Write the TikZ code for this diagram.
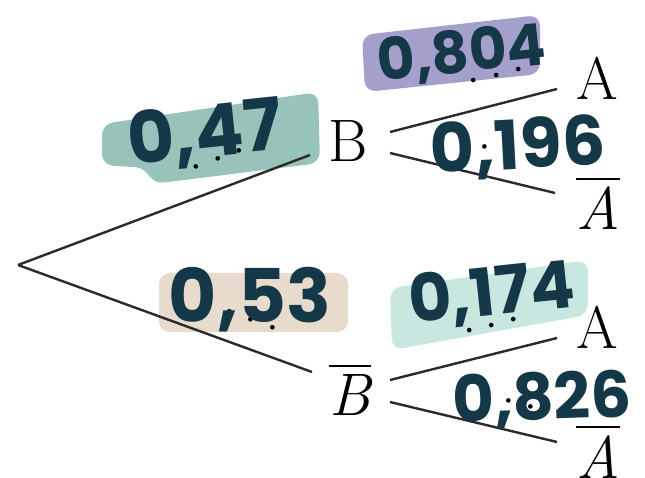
\documentclass[tikz,border=0pt]{standalone}
\usepackage{fontspec}
\newfontfamily\hand{Poppins}
\usetikzlibrary{calc}
\definecolor{ink}{HTML}{143847}
\definecolor{hlteal}{HTML}{97C3BB}
\definecolor{hlpurple}{HTML}{A59FCC}
\definecolor{hlbeige}{HTML}{E6DBCD}
\definecolor{hlmint}{HTML}{C8E7E1}
\definecolor{branchcol}{HTML}{2A2A2A}
\newcommand{\barred}[1]{\setbox0\hbox{\itshape #1}\vbox{\hrule height 2pt width \wd0 \kern 7pt \box0}}
\newcommand{\spdots}{\hbox{.\kern 9pt.\kern 9pt.}}
\begin{document}
\begin{tikzpicture}[x=1pt,y=-1pt,
  letter/.style={font=\fontsize{60}{72}\selectfont, inner sep=0pt, anchor=base},
  branch/.style={draw=branchcol, line width=2.4pt},
  dotlab/.style={font=\fontsize{56}{64}\selectfont, sloped, above=25pt, inner sep=0pt},
  hw/.style={text=ink, inner sep=0pt, font=\hand\bfseries},
  hl/.style={rounded corners=11pt}]
\useasboundingbox (0,0) rectangle (645,478);

% highlights
\fill[hlteal,hl] (102,124) -- (318,92) -- (320,163) -- (152,184) -- (147,168) -- (102,165) -- cycle;
\fill[hlpurple,hl] (362,35) -- (540,15) -- (540,74) -- (365,92) -- cycle;
\fill[hlbeige,hl] (159,273) -- (348,273) -- (348,332) -- (159,332) -- cycle;
\fill[hlmint,hl] (390,288) -- (588,260) -- (588,315) -- (392,350) -- cycle;

% nodes
\coordinate (root) at (18,265);
\node[letter] (B) at (348,162) {B};
\node[letter] (Bb) at (350,415) {\barred{B}};
\node[letter] (A1) at (597,100) {A};
\node[letter] (Ab1) at (598,230) {\barred{A}};
\node[letter] (A2) at (597,348) {A};
\node[letter] (Ab2) at (598,478) {\barred{A}};

% branches
\draw[branch] (root) -- node[dotlab,pos=0.72] (d1) {\spdots} ($(B.base)+(-38,-7)$);
\draw[branch] (root) -- node[dotlab,pos=0.76] (d2) {\spdots} ($(Bb.base)+(-38,-43)$);
\draw[branch] ($(B.base)+(42,-30)$) -- node[dotlab,pos=0.68] (d3) {\spdots} ($(A1.base)+(-40,-11)$);
\draw[branch] ($(B.base)+(42,-9)$) -- node[dotlab,pos=0.67] (d4) {\spdots} ($(Ab1.base)+(-43,-37)$);
\draw[branch] ($(Bb.base)+(40,-35)$) -- node[dotlab,pos=0.65] (d5) {\spdots} ($(A2.base)+(-40,-10)$);
\draw[branch] ($(Bb.base)+(40,-13)$) -- node[dotlab,pos=0.67] (d6) {\spdots} ($(Ab2.base)+(-41,-36)$);

% handwritten values
\node[hw, font=\hand\bfseries\fontsize{72}{80}\selectfont, rotate=6] (h1) at (205,135) {0,47};
\node[hw, font=\hand\bfseries\fontsize{58}{66}\selectfont, rotate=6] (h2) at (462,55) {0,804};
\node[hw, font=\hand\bfseries\fontsize{68}{76}\selectfont, rotate=3] (h3) at (518,148) {0,196};
\node[hw, font=\hand\bfseries\fontsize{74}{82}\selectfont] (h4) at (250,300) {0,53};
\node[hw, font=\hand\bfseries\fontsize{66}{74}\selectfont, rotate=6] (h5) at (492,295) {0,174};
\node[hw, font=\hand\bfseries\fontsize{64}{72}\selectfont, rotate=2] (h6) at (542,400) {0,826};
\end{tikzpicture}
\end{document}
